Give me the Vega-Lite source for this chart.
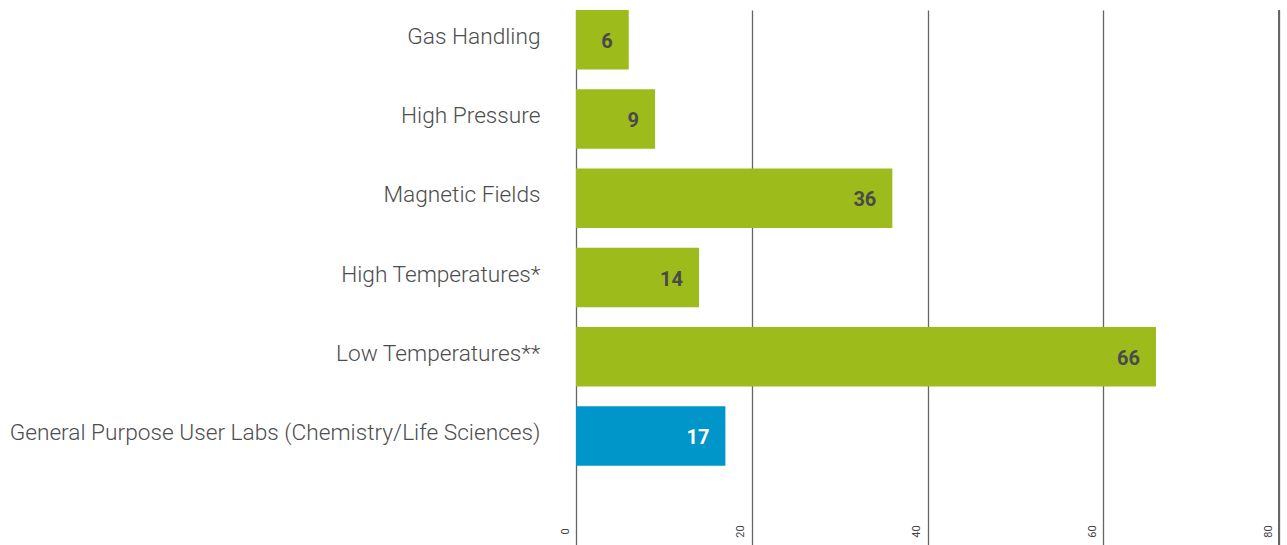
{
  "$schema": "https://vega.github.io/schema/vega-lite/v6.json",
  "width": 703,
  "height": 535,
  "autosize": {"type": "none"},
  "padding": {"left": 576, "top": 10, "right": 8, "bottom": 0},
  "background": "white",
  "config": {"view": {"stroke": null}},
  "data": {
    "values": [
      {"category": "Gas Handling", "value": 6, "type": "facility"},
      {"category": "High Pressure", "value": 9, "type": "facility"},
      {"category": "Magnetic Fields", "value": 36, "type": "facility"},
      {"category": "High Temperatures*", "value": 14, "type": "facility"},
      {"category": "Low Temperatures**", "value": 66, "type": "facility"},
      {"category": "General Purpose User Labs (Chemistry/Life Sciences)", "value": 17, "type": "lab"}
    ]
  },
  "layer": [
    {
      "mark": {"type": "bar"},
      "encoding": {
        "y": {
          "field": "category",
          "type": "nominal",
          "scale": {
            "domain": ["Gas Handling", "High Pressure", "Magnetic Fields", "High Temperatures*", "Low Temperatures**", "General Purpose User Labs (Chemistry/Life Sciences)", " "],
            "paddingInner": 0.25,
            "paddingOuter": 0
          },
          "axis": {
            "title": null,
            "domain": false,
            "ticks": false,
            "grid": false,
            "labelFont": "Roboto",
            "labelFontSize": 22.7,
            "labelFontWeight": 300,
            "labelColor": "#4d4d4d",
            "labelPadding": 36,
            "labelOffset": -3,
            "labelLimit": 700
          }
        },
        "x": {
          "field": "value",
          "type": "quantitative",
          "scale": {"domain": [0, 80], "nice": false},
          "axis": {
            "title": null,
            "values": [0, 20, 40, 60, 80],
            "domain": false,
            "ticks": false,
            "grid": true,
            "gridColor": "#666666",
            "gridWidth": 1.3,
            "gridOpacity": 1,
            "labelAngle": -90,
            "labelAlign": "center",
            "labelBaseline": "middle",
            "labelPadding": -14,
            "labelOffset": -11,
            "labelFont": "Roboto",
            "labelFontSize": 11,
            "labelColor": "#444444"
          }
        },
        "color": {
          "field": "type",
          "type": "nominal",
          "scale": {"domain": ["facility", "lab"], "range": ["#9dbc1b", "#0096c9"]},
          "legend": null
        }
      }
    },
    {
      "mark": {"type": "text", "align": "right", "baseline": "middle", "dx": -16, "dy": 2, "font": "Roboto", "fontSize": 20, "fontWeight": "bold"},
      "encoding": {
        "y": {"field": "category", "type": "nominal"},
        "x": {"field": "value", "type": "quantitative"},
        "text": {"field": "value", "type": "quantitative"},
        "color": {
          "field": "type",
          "type": "nominal",
          "scale": {"domain": ["facility", "lab"], "range": ["#4a4a4a", "#ffffff"]},
          "legend": null
        }
      }
    },
    {
      "mark": {"type": "rule", "color": "#666666", "strokeWidth": 1.3},
      "encoding": {"x": {"datum": 80}}
    }
  ],
  "resolve": {"scale": {"color": "independent"}}
}
